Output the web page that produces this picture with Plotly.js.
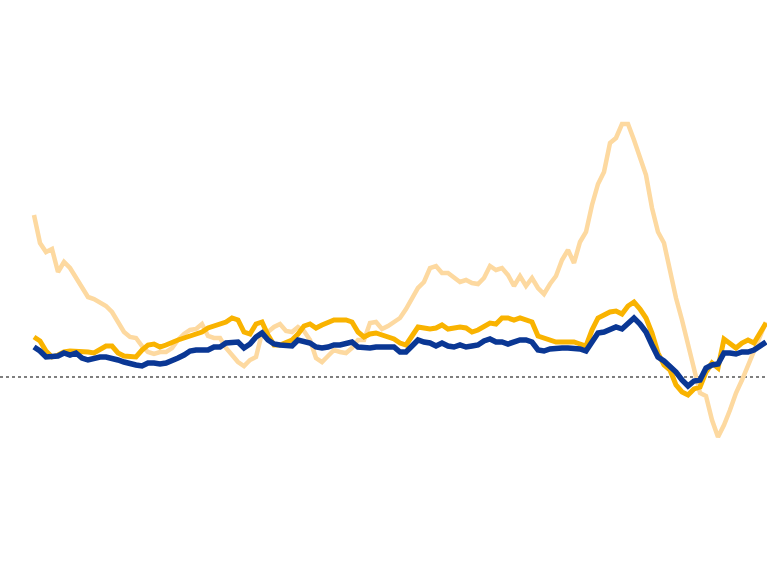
<!DOCTYPE html>
<html>
<head>
<meta charset="utf-8">
<script src="https://cdn.plot.ly/plotly-3.0.1.min.js"></script>
<style>html,body{margin:0;padding:0;background:#fff;}#chart{width:767px;height:575px;}</style>
</head>
<body>
<div id="chart"></div>
<script>
const seriesLight = [16.2,13.4,12.5,12.8,10.5,11.5,10.9,10.0,9.1,8.0,7.8,7.5,7.1,6.5,5.4,4.5,4.0,3.9,3.1,2.5,2.3,2.5,2.5,2.9,3.7,4.3,4.7,4.8,5.3,4.1,3.9,3.9,2.9,2.2,1.5,1.1,1.7,2.0,4.4,4.5,5.0,5.3,4.6,4.5,5.0,4.6,3.7,1.9,1.5,2.1,2.7,2.5,2.4,2.9,3.7,3.7,5.4,5.5,4.8,5.1,5.5,5.9,6.8,7.9,8.9,9.5,10.9,11.1,10.4,10.4,9.9,9.5,9.7,9.4,9.3,9.9,11.1,10.7,10.9,10.2,9.1,10.1,9.1,9.9,8.9,8.3,9.3,10.1,11.7,12.7,11.4,13.5,14.5,17.2,19.3,20.5,23.4,23.9,25.3,25.3,23.7,21.9,20.2,16.9,14.5,13.4,10.5,7.9,5.7,3.2,0.7,-1.6,-1.9,-4.3,-6.0,-4.8,-3.3,-1.6,-0.3,1.2,2.7,4.0,5.5];
const seriesGold = [4.0,3.6,2.6,2.0,2.2,2.5,2.6,2.6,2.5,2.5,2.4,2.8,3.1,3.1,2.4,2.1,2.0,2.0,2.7,3.2,3.3,3.0,3.2,3.5,3.7,3.9,4.1,4.3,4.5,4.9,5.1,5.4,5.5,5.9,5.7,4.5,4.3,5.3,5.5,4.2,3.2,3.2,3.4,3.7,4.3,5.1,5.3,4.9,5.2,5.5,5.7,5.7,5.7,5.5,4.5,4.0,4.3,4.4,4.2,4.1,3.8,3.4,3.2,4.1,5.0,4.9,4.8,4.9,5.2,4.8,4.9,5.0,4.9,4.5,4.7,5.1,5.4,5.3,5.9,5.9,5.7,5.9,5.7,5.5,4.1,3.9,3.7,3.5,3.5,3.5,3.5,3.3,3.1,4.7,5.9,6.2,6.5,6.6,6.3,7.1,7.5,6.8,5.9,4.4,2.4,1.2,0.7,-0.8,-1.5,-1.8,-1.2,-1.0,0.5,1.4,0.9,3.8,3.3,2.9,3.4,3.7,3.4,4.5,5.4];
const seriesBlue = [3.0,2.6,2.0,2.0,2.1,2.4,2.2,2.4,1.9,1.7,1.9,2.0,2.0,1.9,1.7,1.5,1.3,1.2,1.1,1.4,1.4,1.3,1.4,1.6,1.9,2.2,2.6,2.7,2.7,2.7,3.0,3.0,3.4,3.5,3.5,2.9,3.3,4.0,4.4,3.7,3.3,3.2,3.1,3.1,3.7,3.6,3.4,3.0,2.9,3.0,3.2,3.2,3.3,3.5,3.0,2.9,2.9,3.0,3.0,3.1,3.0,2.5,2.5,3.1,3.7,3.5,3.4,3.1,3.4,3.1,3.0,3.2,3.0,3.1,3.2,3.6,3.8,3.5,3.5,3.3,3.5,3.7,3.7,3.5,2.7,2.6,2.8,2.9,2.9,2.9,2.9,2.8,2.6,3.5,4.4,4.5,4.7,5.0,4.8,5.4,5.9,5.3,4.5,3.2,2.0,1.6,1.0,0.5,-0.3,-0.9,-0.4,-0.3,0.9,1.2,1.3,2.4,2.4,2.3,2.5,2.5,2.7,3.1,3.5];

function idx(arr){ return arr.map((_, i) => i); }

const traces = [
  {x: idx(seriesLight), y: seriesLight, type: 'scatter', mode: 'lines',
   line: {color: '#fdd9a0', width: 4.5}, hoverinfo: 'skip'},
  {x: idx(seriesGold), y: seriesGold, type: 'scatter', mode: 'lines',
   line: {color: '#f9b300', width: 5}, hoverinfo: 'skip'},
  {x: idx(seriesBlue), y: seriesBlue, type: 'scatter', mode: 'lines',
   line: {color: '#0a3794', width: 5.5}, hoverinfo: 'skip'}
];

const layout = {
  width: 767, height: 575,
  margin: {l: 0, r: 0, t: 0, b: 0, pad: 0},
  paper_bgcolor: '#ffffff', plot_bgcolor: '#ffffff',
  showlegend: false,
  xaxis: {range: [-34/6, 733/6], visible: false, showgrid: false, zeroline: false},
  yaxis: {range: [-19.8, 37.7], visible: false, showgrid: false, zeroline: false},
  shapes: [
    {type: 'line', xref: 'paper', x0: 0, x1: 1, yref: 'y', y0: 0, y1: 0,
     line: {color: '#555555', width: 1.5, dash: 'dot'}, layer: 'below'}
  ]
};

Plotly.newPlot('chart', traces, layout, {displayModeBar: false, staticPlot: true});
</script>
</body>
</html>
